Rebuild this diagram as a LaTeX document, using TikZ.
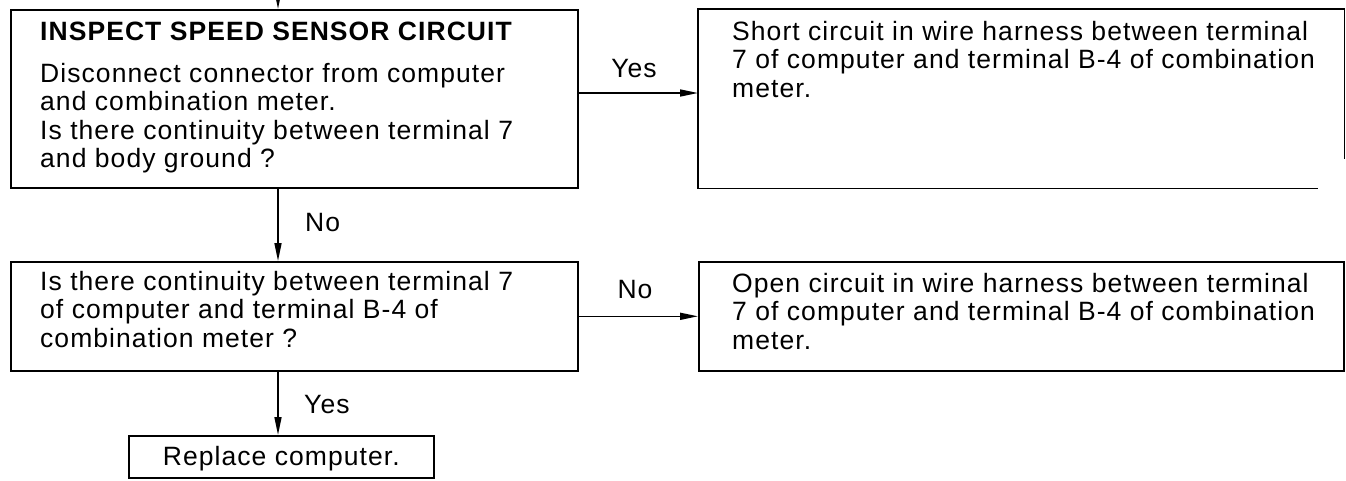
\documentclass[tikz,border=0pt]{standalone}
\usepackage{fontspec}
\setmainfont{Liberation Sans}[LetterSpace=4]
\usetikzlibrary{arrows.meta}
\begin{document}
\begin{tikzpicture}[x=1pt,y=-1pt,
  box/.style={draw, line width=1.6pt, rectangle, inner sep=0pt, anchor=north west},
  conn/.style={line width=1.6pt, -{Triangle[length=18pt,width=7pt]}},
  txt/.style={anchor=base west, align=left, inner sep=0pt, font=\fontsize{26.5}{28.5}\selectfont},
  lbl/.style={inner sep=0pt, font=\fontsize{26.5}{28.5}\selectfont}]
\useasboundingbox (0,0) rectangle (1346,480);
\clip (0,0) rectangle (1346,480);
% boxes
\node[box, minimum width=567pt, minimum height=178pt] (b1) at (10,9) {};
\node[box, draw=none, minimum width=645pt, minimum height=178pt] (b2) at (698,9) {};
\draw[line width=1.6pt] ([xshift=-27pt]b2.south east) -- (b2.south west) -- (b2.north west) -- (b2.north east) -- ([yshift=30pt]b2.south east);
\node[box, minimum width=567pt, minimum height=109pt] (b3) at (10,261) {};
\node[box, minimum width=645pt, minimum height=109pt] (b4) at (698,261) {};
\node[box, minimum width=305pt, minimum height=42pt] (b5) at (128,435) {};
% texts (anchor = baseline of the last line)
\node[txt] (t1) at (40,167.5) {\textbf{INSPECT SPEED SENSOR CIRCUIT}\\[13.5pt]
  Disconnect connector from computer\\
  and combination meter.\\
  Is there continuity between terminal 7\\
  and body ground ?};
\node[txt] (t2) at (732,97) {Short circuit in wire harness between terminal\\
  7 of computer and terminal B-4 of combination\\
  meter.};
\node[txt] (t3) at (40,347) {Is there continuity between terminal 7\\
  of computer and terminal B-4 of\\
  combination meter ?};
\node[txt] (t4) at (732,349) {Open circuit in wire harness between terminal\\
  7 of computer and terminal B-4 of combination\\
  meter.};
\node[lbl, anchor=base] (t5) at ([yshift=-30pt]b5.north) {Replace computer.};
% connectors
\coordinate (top) at (278,-12);
\coordinate (ya) at (0,93);
\draw[conn] (top) -- (top |- b1.north);
\draw[conn] (b1.south -| top) -- (b3.north -| top);
\draw[conn] (b1.east |- ya) -- (b2.west |- ya);
\draw[conn] (b3.east) -- (b4.west);
\draw[conn] (b3.south -| top) -- (b5.north -| top);
% labels
\node[lbl] (lyes1) at (634,69) {Yes};
\node[lbl, anchor=west] (lno1) at (305,223) {No};
\node[lbl] (lno2) at (635,290) {No};
\node[lbl, anchor=west] (lyes2) at (304,405) {Yes};
\end{tikzpicture}
\end{document}
